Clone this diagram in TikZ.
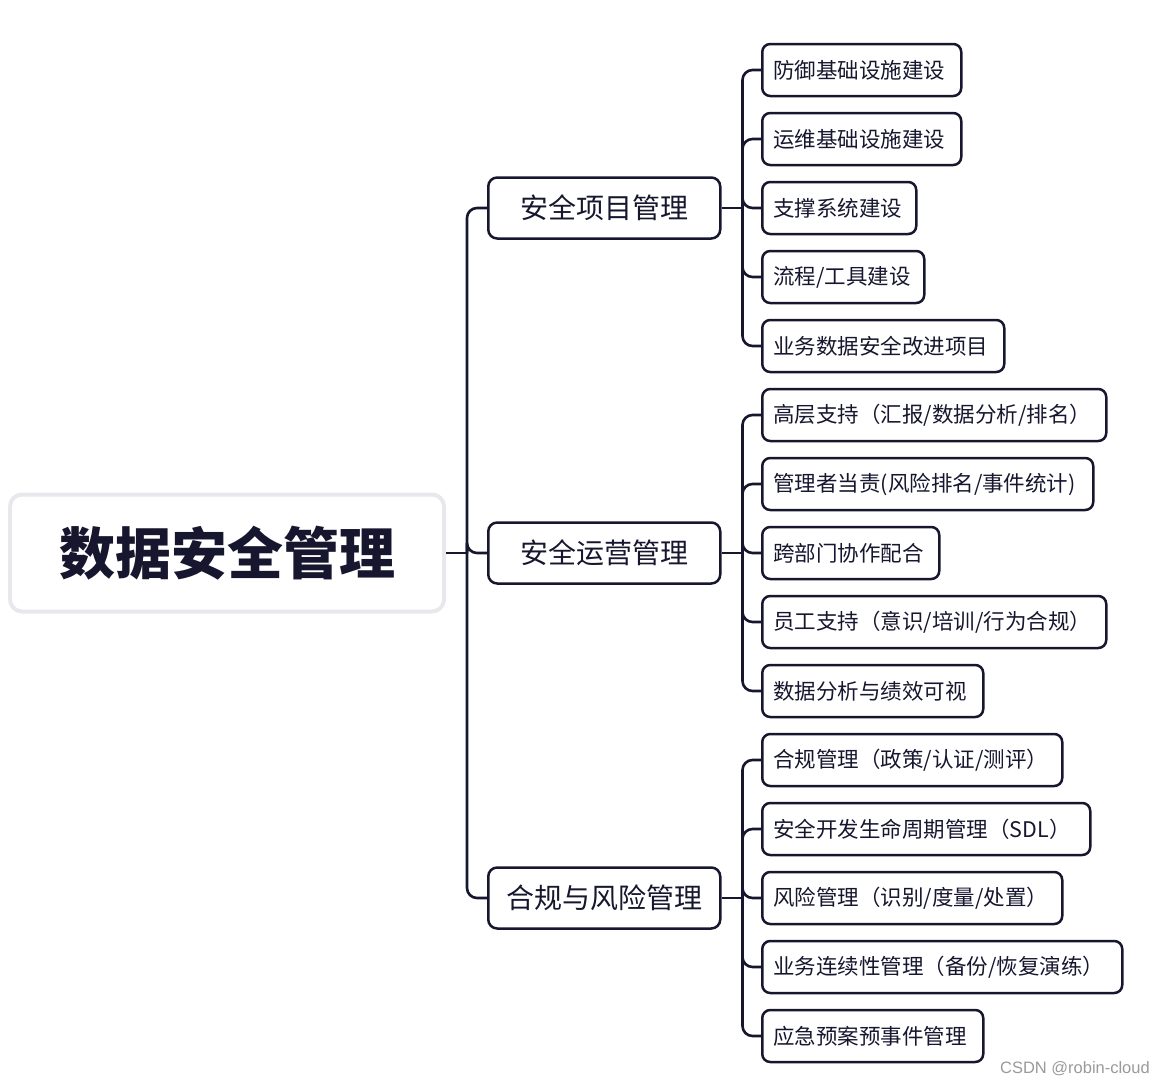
\documentclass[tikz,border=0pt]{standalone}
\usepackage{fontspec}
\setmainfont{Noto Sans CJK SC}
\newfontfamily\wmfont{Liberation Sans}
\definecolor{ink}{HTML}{16162E}
\definecolor{rootline}{HTML}{E8E8EC}
\definecolor{wm}{HTML}{9A9A9A}
\tikzset{
  leaf/.style={draw=ink, line width=2.5pt, rounded corners=8pt, anchor=west,
    minimum height=52pt, inner xsep=11pt, inner ysep=0pt, align=left,
    font=\fontsize{21.5}{24}\selectfont, text=ink},
  midbox/.style={draw=ink, line width=2.5pt, rounded corners=9pt, anchor=west,
    minimum width=232pt, minimum height=61pt, inner sep=0pt,
    font=\fontsize{28}{32}\selectfont, text=ink},
  rootbox/.style={draw=rootline, line width=4pt, rounded corners=12pt,
    minimum width=434pt, minimum height=117pt, inner sep=0pt,
    font=\bfseries\fontsize{56}{60}\selectfont, text=ink},
  link/.style={draw=ink, line width=2.6pt, rounded corners=10pt},
}
\begin{document}
\begin{tikzpicture}[x=1pt,y=-1pt]
\useasboundingbox (0,0) rectangle (1166,1084);

\node[rootbox] (root) at (227,553) {数据安全管理};

\node[midbox] (m1) at (487,208) {安全项目管理};
\node[midbox] (m2) at (487,553) {安全运营管理};
\node[midbox] (m3) at (487,898) {合规与风险管理};

\node[leaf, text width=177pt] (a1) at (761,70)  {\mbox{防御基础设施建设}};
\node[leaf, text width=177pt] (a2) at (761,139) {\mbox{运维基础设施建设}};
\node[leaf, text width=132pt] (a3) at (761,208) {\mbox{支撑系统建设}};
\node[leaf, text width=140pt] (a4) at (761,277) {\mbox{流程/工具建设}};
\node[leaf, text width=220pt] (a5) at (761,346) {\mbox{业务数据安全改进项目}};

\node[leaf, text width=322pt] (b1) at (761,415) {\mbox{高层支持（汇报/数据分析/排名）}};
\node[leaf, text width=309pt] (b2) at (761,484) {\mbox{管理者当责(风险排名/事件统计)}};
\node[leaf, text width=155pt] (b3) at (761,553) {\mbox{跨部门协作配合}};
\node[leaf, text width=322pt] (b4) at (761,622) {\mbox{员工支持（意识/培训/行为合规）}};
\node[leaf, text width=199pt] (b5) at (761,691) {\mbox{数据分析与绩效可视}};

\node[leaf, text width=278pt] (c1) at (761,760)  {\mbox{合规管理（政策/认证/测评）}};
\node[leaf, text width=306pt] (c2) at (761,829)  {\mbox{安全开发生命周期管理（SDL）}};
\node[leaf, text width=278pt] (c3) at (761,898)  {\mbox{风险管理（识别/度量/处置）}};
\node[leaf, text width=338pt] (c4) at (761,967)  {\mbox{业务连续性管理（备份/恢复演练）}};
\node[leaf, text width=199pt] (c5) at (761,1036) {\mbox{应急预案预事件管理}};

\coordinate (jr) at ([xshift=21pt]root.east);
\draw[link] (root.east) -- (jr);
\foreach \m in {m1,m2,m3} \draw[link] (jr) |- (\m.west);

\coordinate (j1) at ([xshift=21pt]m1.east);
\coordinate (j2) at ([xshift=21pt]m2.east);
\coordinate (j3) at ([xshift=21pt]m3.east);
\draw[link] (m1.east) -- (j1);
\draw[link] (m2.east) -- (j2);
\draw[link] (m3.east) -- (j3);
\foreach \c in {a1,a2,a3,a4,a5} \draw[link] (j1) |- (\c.west);
\foreach \c in {b1,b2,b3,b4,b5} \draw[link] (j2) |- (\c.west);
\foreach \c in {c1,c2,c3,c4,c5} \draw[link] (j3) |- (\c.west);

\node[anchor=base east, font=\wmfont\fontsize{16.5}{18}\selectfont, text=wm, inner sep=0pt] (wmk) at (1150,1073) {CSDN @robin-cloud};
\end{tikzpicture}
\end{document}
